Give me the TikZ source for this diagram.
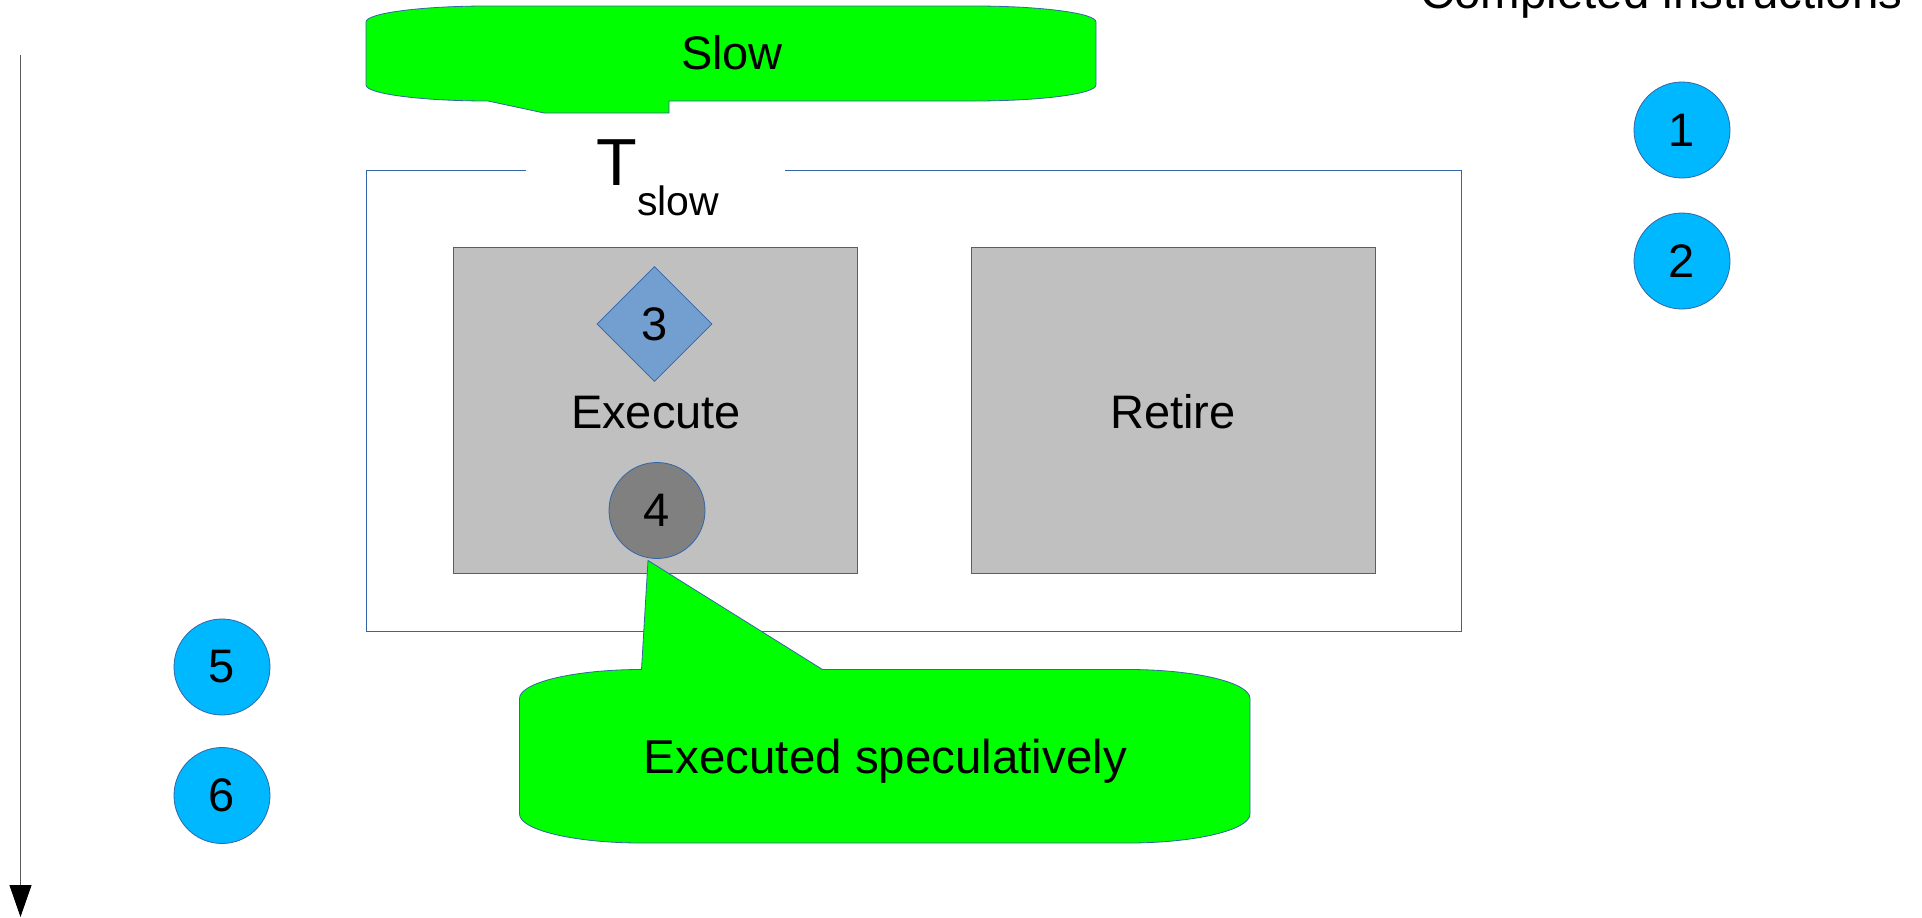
\documentclass[tikz,border=0pt]{standalone}
\usepackage{fontspec}
\setmainfont{Liberation Sans}
\usetikzlibrary{shapes.geometric,arrows.meta}

\definecolor{edgeblue}{HTML}{3465A4}
\definecolor{stagegray}{HTML}{C0C0C0}
\definecolor{notegreen}{HTML}{00FF00}
\definecolor{instrcyan}{HTML}{00B8FF}
\definecolor{instrblue}{HTML}{729FCF}
\definecolor{instrgray}{HTML}{808080}

\tikzset{
  txt/.style={font=\fontsize{47}{56}\selectfont, inner sep=0pt},
  stagebox/.style={draw=edgeblue, fill=stagegray, line width=1pt, inner sep=0pt},
  instr/.style={circle, draw=edgeblue, fill=instrcyan, line width=0.8pt,
    minimum size=96pt, inner sep=0pt, font=\fontsize{47}{56}\selectfont},
  note/.style={draw=edgeblue, fill=notegreen, line width=0.8pt},
  framebox/.style={draw=edgeblue, line width=1pt},
}

\begin{document}
\begin{tikzpicture}[x=1pt, y=-1pt]
\clip (0,0) rectangle (1922,918);
\fill[white] (0,0) rectangle (1922,918);

% time axis
\coordinate (tstart) at (20.5,55);
\coordinate (tend) at (20.5,917);
\draw[black!65, line width=1pt, -{Triangle[length=32pt, width=22pt, color=black]}] (tstart) -- (tend);

% heading, partly above the page edge
\node[txt, anchor=base west, font=\fontsize{47.4}{56}\selectfont] (done) at (1420,9) {Completed instructions};

% completed instructions
\node[instr] (n1) at (1682,130) {1};
\node[instr] (n2) at (1682,261) {2};

% later instructions
\node[instr] (n5) at (222,667) {5};
\node[instr] (n6) at (222,795.5) {6};

% slow window frame with a gap for its label
\draw[framebox] (526,170.5) -- (366,170.5) -- (366,631) -- (1461,631) -- (1461,170.5) -- (785,170.5);
\node[inner sep=0pt, anchor=base west, font=\fontsize{66.6}{70}\selectfont] (tlabel) at (596,185.7) {T};
\node[inner sep=0pt, anchor=base west, font=\fontsize{41}{46}\selectfont] (tsub) at (637,215) {slow};

% pipeline stages
\node[stagebox, minimum width=404pt, minimum height=326pt] (exec) at (655.5,410.5) {};
\node[stagebox, minimum width=404pt, minimum height=326pt] (ret) at (1173.8,410.5) {};
\node[txt, anchor=base] (execlbl) at (656,428) {Execute};
\node[txt, anchor=base] (retlbl) at (1173,428) {Retire};

% instructions in flight
\node[diamond, draw=edgeblue, fill=instrblue, line width=0.8pt, minimum width=115pt,
  minimum height=115pt, inner sep=0pt, font=\fontsize{47}{56}\selectfont] (n3) at (654.5,324) {3};
\node[circle, draw=edgeblue, fill=instrgray, line width=0.8pt, minimum size=96pt,
  inner sep=0pt, font=\fontsize{47}{56}\selectfont] (n4) at (657,510.5) {4};

% callout: Slow
\draw[note] (366,22) .. controls (366,13.2) and (420.6,6) .. (488,6)
  -- (974,6) .. controls (1041.4,6) and (1096,13.2) .. (1096,22)
  -- (1096,85) .. controls (1096,93.8) and (1041.4,101) .. (974,101)
  -- (669,101) -- (669,113) -- (544,113) -- (488,101)
  .. controls (420.6,101) and (366,93.8) .. (366,85) -- cycle;
\node[txt, anchor=base] (slowlbl) at (732,69.3) {Slow};

% callout: Executed speculatively, pointing at instruction 4
\coordinate (tip) at (648,560.5);
\draw[note] (519.5,698.5) .. controls (519.5,682.5) and (574.2,669.5) .. (641.5,669.5)
  -- (tip) -- (822.5,669.5)
  -- (1128,669.5) .. controls (1195.3,669.5) and (1250,682.5) .. (1250,698.5)
  -- (1250,814) .. controls (1250,830) and (1195.3,843) .. (1128,843)
  -- (641.5,843) .. controls (574.2,843) and (519.5,830) .. (519.5,814) -- cycle;
\node[txt, anchor=base, font=\fontsize{47.5}{56}\selectfont] (speclbl) at (885.5,773) {Executed speculatively};
\end{tikzpicture}
\end{document}
